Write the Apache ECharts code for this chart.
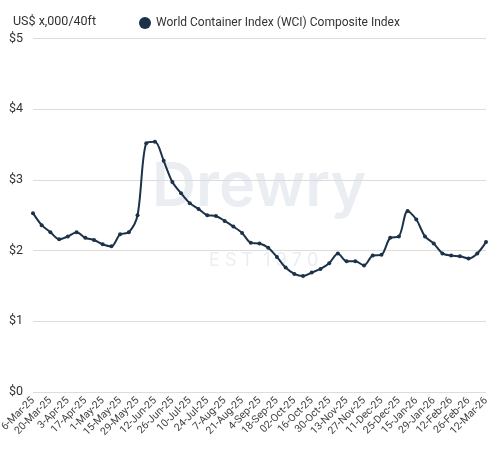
<!DOCTYPE html>
<html>
<head>
<meta charset="utf-8">
<script src="https://cdn.jsdelivr.net/npm/echarts@6/dist/echarts.min.js"></script>
<style>
  html, body { margin: 0; padding: 0; background: #fff; }
  #chart { width: 500px; height: 454px; }
</style>
</head>
<body>
<div id="chart"></div>
<script>
// weekly dates (no index on 1-Jan-26)
const dates = [
  '6-Mar-25', '13-Mar-25', '20-Mar-25', '27-Mar-25', '3-Apr-25', '10-Apr-25', '17-Apr-25', '24-Apr-25',
  '1-May-25', '8-May-25', '15-May-25', '22-May-25', '29-May-25', '5-Jun-25', '12-Jun-25', '19-Jun-25',
  '26-Jun-25', '3-Jul-25', '10-Jul-25', '17-Jul-25', '24-Jul-25', '31-Jul-25', '7-Aug-25', '14-Aug-25',
  '21-Aug-25', '28-Aug-25', '4-Sep-25', '11-Sep-25', '18-Sep-25', '25-Sep-25', '02-Oct-25', '09-Oct-25',
  '16-Oct-25', '23-Oct-25', '30-Oct-25', '06-Nov-25', '13-Nov-25', '20-Nov-25', '27-Nov-25', '04-Dec-25',
  '11-Dec-25', '18-Dec-25', '25-Dec-25', '08-Jan-26', '15-Jan-26', '22-Jan-26', '29-Jan-26', '05-Feb-26',
  '12-Feb-26', '19-Feb-26', '26-Feb-26', '05-Mar-26', '12-Mar-26'
];

// WCI composite, US$ thousand per 40ft
const wci = [
  2.53, 2.36, 2.26, 2.16, 2.20, 2.26, 2.18, 2.15, 2.09, 2.06,
  2.23, 2.26, 2.50, 3.52, 3.54, 3.27, 2.97, 2.81, 2.67, 2.59,
  2.50, 2.49, 2.42, 2.34, 2.25, 2.11, 2.10, 2.04, 1.91, 1.76,
  1.67, 1.64, 1.69, 1.74, 1.82, 1.96, 1.85, 1.85, 1.79, 1.93,
  1.94, 2.18, 2.20, 2.56, 2.44, 2.20, 2.10, 1.96, 1.93, 1.92,
  1.89, 1.96, 2.12
];

const yTicks = [0, 1, 2, 3, 4, 5];
const seriesName = 'World Container Index (WCI) Composite Index';
const unitLabel = 'US$ x,000/40ft';

const navy = '#1c3249';
const fontFamily = 'Roboto, sans-serif';

const chart = echarts.init(document.getElementById('chart'));

chart.setOption({
  animation: false,
  textStyle: { fontFamily: fontFamily },
  title: {
    text: unitLabel,
    left: 8,
    top: 10,
    textStyle: { fontSize: 12.5, fontWeight: 'normal', color: '#333', fontFamily: fontFamily }
  },
  legend: {
    data: [seriesName],
    left: 134,
    top: 12,
    icon: 'circle',
    itemWidth: 12,
    itemHeight: 12,
    itemGap: 6,
    textStyle: { fontSize: 12, color: '#333', fontFamily: fontFamily }
  },
  // faint brand watermark behind the line
  graphic: [
    {
      type: 'text',
      left: 152,
      top: 157,
      z: 0,
      style: {
        text: 'Drewry',
        font: '600 61px Inter, sans-serif',
        fill: 'rgba(205,215,226,0.42)'
      }
    },
    {
      type: 'text',
      left: 209,
      top: 252,
      z: 0,
      style: {
        text: 'E S T  1 9 7 0',
        font: '400 18px Inter, sans-serif',
        fill: 'rgba(205,215,226,0.42)'
      }
    }
  ],
  grid: {
    left: 33,
    right: 14,
    top: 38.5,
    bottom: 62,
    outerBoundsMode: 'none'
  },
  xAxis: {
    type: 'category',
    data: dates,
    boundaryGap: false,
    axisLine: { show: false },
    axisTick: { show: false },
    axisLabel: {
      interval: 1,
      rotate: 45,
      fontSize: 10.5,
      color: '#444',
      margin: 7
    },
    splitLine: { show: false }
  },
  yAxis: {
    type: 'value',
    min: yTicks[0],
    max: yTicks[yTicks.length - 1],
    interval: 1,
    axisLine: { show: false },
    axisTick: { show: false },
    axisLabel: {
      formatter: v => '$' + v,
      fontSize: 12.5,
      color: '#333',
      align: 'left',
      margin: 24
    },
    splitLine: { lineStyle: { color: '#dcdcdc', width: 1 } }
  },
  series: [
    {
      name: seriesName,
      type: 'line',
      data: wci,
      smooth: 0.3,
      symbol: 'circle',
      symbolSize: 4,
      itemStyle: { color: navy },
      lineStyle: { color: navy, width: 2 },
      z: 3
    }
  ]
});
</script>
</body>
</html>
